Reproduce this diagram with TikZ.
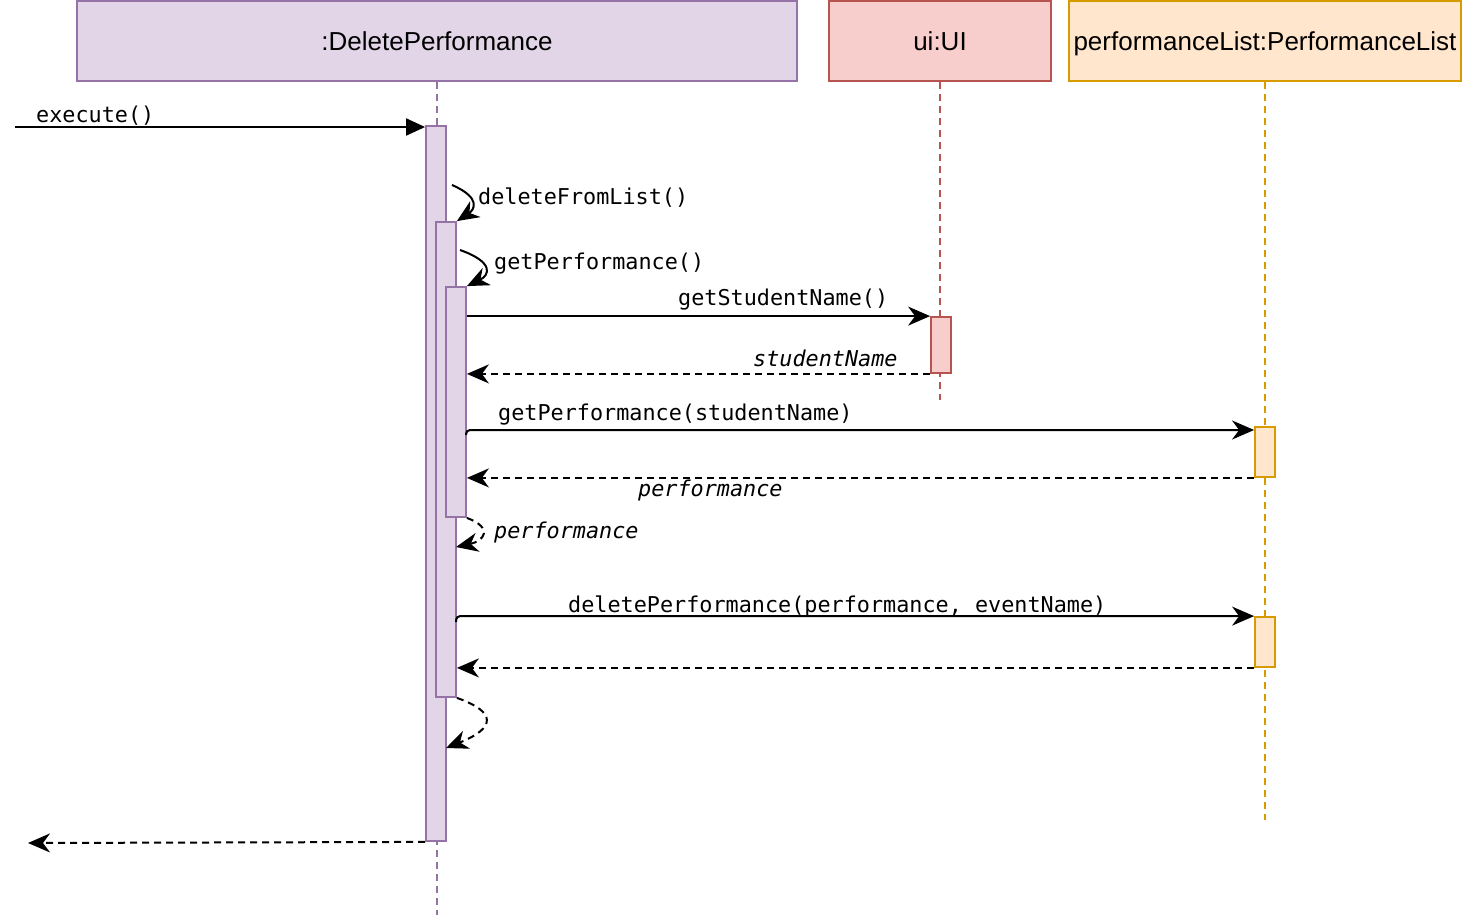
\documentclass[tikz,border=0pt]{standalone}
\usepackage{fontspec}
\setmainfont{Liberation Sans}
\setmonofont{DejaVu Sans Mono}
\usetikzlibrary{arrows.meta}
\definecolor{pfill}{HTML}{E1D5E7}
\definecolor{pline}{HTML}{9673A6}
\definecolor{rfill}{HTML}{F8CECC}
\definecolor{rline}{HTML}{B85450}
\definecolor{ofill}{HTML}{FFE6CC}
\definecolor{oline}{HTML}{D79B00}
\tikzset{
  header/.style={draw, line width=1.8pt, inner sep=0pt, text depth=0pt, font=\fontsize{26}{30}\selectfont},
  actbox/.style={draw, line width=1.8pt, inner sep=0pt, minimum width=20pt},
  lifeline/.style={line width=1.8pt, dash pattern=on 7pt off 5pt},
  msg/.style={line width=2pt, -{Stealth[length=22pt,width=19pt,inset=7pt]}},
  ret/.style={msg, dash pattern=on 7pt off 5pt},
  found/.style={line width=2pt, -{Triangle[length=19pt,width=17pt]}},
  lbl/.style={inner sep=0pt, anchor=west, font=\ttfamily\fontsize{21.8}{24}\selectfont},
  ilbl/.style={lbl, font=\ttfamily\itshape\fontsize{21.8}{24}\selectfont},
}
\begin{document}
\begin{tikzpicture}[x=1pt,y=-1pt]
\useasboundingbox (0,0) rectangle (1462,922);
% headers
\node[header, fill=pfill, draw=pline, minimum width=720pt, minimum height=80pt] (h1) at (437,41) {:DeletePerformance};
\node[header, fill=rfill, draw=rline, minimum width=222pt, minimum height=80pt] (h2) at (940,41) {ui:UI};
\node[header, fill=ofill, draw=oline, minimum width=392pt, minimum height=80pt] (h3) at (1265,41) {performanceList:PerformanceList};
% lifeline ends
\coordinate (e1) at (437,915);
\coordinate (e2) at (940,400);
\coordinate (e3) at (1265,820);
\draw[lifeline, pline] (h1.south) -- (e1);
\draw[lifeline, rline] (h2.south) -- (e2);
\draw[lifeline, oline] (h3.south) -- (e3);
% activation boxes
\node[actbox, fill=pfill, draw=pline, minimum height=715pt] (a1) at (436,483.5) {};
\node[actbox, fill=pfill, draw=pline, minimum height=475pt] (a2) at (446,459.5) {};
\node[actbox, fill=pfill, draw=pline, minimum height=230pt] (a3) at (456,402) {};
\node[actbox, fill=rfill, draw=rline, minimum height=56pt] (u1) at (941,345) {};
\node[actbox, fill=ofill, draw=oline, minimum height=50pt] (p1) at (1265,452) {};
\node[actbox, fill=ofill, draw=oline, minimum height=50pt] (p2) at (1265,642) {};
% execute()
\coordinate (in) at (15,127);
\draw[found] (in) -- (in -| a1.west);
\node[lbl] (l0) at (36,116) {execute()};
% deleteFromList()
\coordinate (s1) at (452,185);
\draw[msg] (s1) .. controls (482,198) and (474,210) .. (a2.north east);
\node[lbl] (l1) at (478,198) {deleteFromList()};
% getPerformance()
\coordinate (s2) at (460,250);
\draw[msg] (s2) .. controls (494,262) and (490,275) .. (a3.north east);
\node[lbl] (l2) at (494,264) {getPerformance()};
% getStudentName()
\draw[msg] (a3.east |- u1.north) -- (u1.north west);
\node[lbl] (l3) at (678,300) {getStudentName()};
\draw[ret] (u1.south west) -- (u1.south west -| a3.east);
\node[ilbl] (l4) at (753,358) {studentName};
% getPerformance(studentName)
\coordinate (g1) at (466,435);
\draw[msg, rounded corners=4pt] (g1) |- (p1.west |- 0,430);
\node[lbl] (l5) at (498,415) {getPerformance(studentName)};
\draw[ret] (p1.south west) -- (p1.south west -| a3.east);
\node[ilbl] (l6) at (638,490) {performance};
% self return performance
\draw[ret] (a3.south east) .. controls (494,528) and (484,541) .. (456,547);
\node[ilbl] (l7) at (494,532) {performance};
% deletePerformance
\coordinate (g2) at (456,622);
\draw[msg, rounded corners=4pt] (g2) |- (p2.north west);
\node[lbl] (l8) at (568,606) {deletePerformance(performance, eventName)};
\draw[ret] (p2.south west) -- (p2.south west -| a2.east);
% self return end of deleteFromList
\draw[ret] (a2.south east) .. controls (497,712) and (496,728) .. (446,748);
% final return
\coordinate (out) at (28,843);
\draw[ret] (a1.south west) -- (out);
\end{tikzpicture}
\end{document}
